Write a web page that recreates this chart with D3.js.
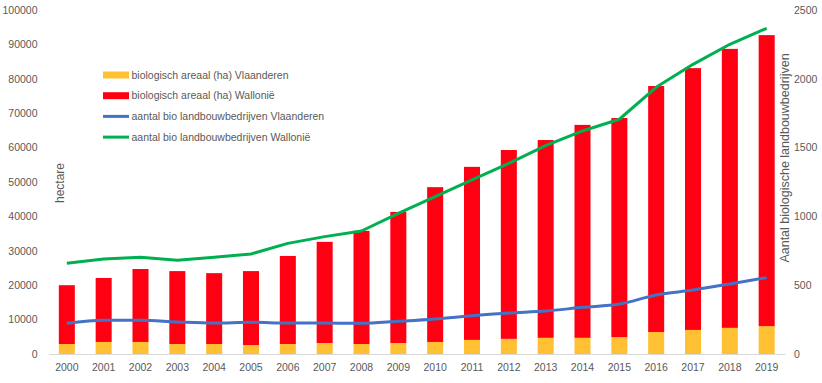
<!DOCTYPE html>
<html>
<head>
<meta charset="utf-8">
<script src="https://cdn.jsdelivr.net/npm/d3@7"></script>
<style>
  body { margin: 0; background: #fff; }
  svg { font-family: "Liberation Sans", Arial, sans-serif; }
</style>
</head>
<body>
<div id="chart"></div>
<script>
const years = ["2000","2001","2002","2003","2004","2005","2006","2007","2008","2009",
               "2010","2011","2012","2013","2014","2015","2016","2017","2018","2019"];
// hectare
const areaVlaanderen = [2900,3500,3500,2900,2900,2600,2900,3200,2900,3200,
                        3500,4100,4400,4700,4700,4900,6400,7000,7600,8100];
const areaTotal = [20000,22100,24700,24100,23500,24100,28500,32600,35800,41300,
                   48500,54400,59300,62200,66600,68600,77900,83100,88700,92700];
const areaWallonie = areaTotal.map((t, i) => t - areaVlaanderen[i]);
// aantal bedrijven
const farmsVlaanderen = [223,245,245,233,225,230,225,225,223,238,
                         255,278,298,312,339,363,429,465,509,555];
const farmsWallonie = [659,690,703,681,703,727,804,853,894,1022,
                       1143,1265,1386,1514,1621,1706,1938,2105,2251,2367];
const leftTicks = [0,10000,20000,30000,40000,50000,60000,70000,80000,90000,100000];
const rightTicks = [0,500,1000,1500,2000,2500];

const width = 822, height = 383;
const margin = { top: 10, right: 37, bottom: 29, left: 48.5 };
const innerW = width - margin.left - margin.right;
const innerH = height - margin.top - margin.bottom;

const svg = d3.select("#chart").append("svg")
  .attr("width", width).attr("height", height);
const g = svg.append("g").attr("transform", `translate(${margin.left},${margin.top})`);

const x = d3.scaleBand().domain(years).range([0, innerW]).paddingInner(0.565).paddingOuter(0.28);
const y = d3.scaleLinear().domain([0, 100000]).range([innerH, 0]);
const y2 = d3.scaleLinear().domain([0, 2500]).range([innerH, 0]);

const stackData = years.map((yr, i) => ({ year: yr, vl: areaVlaanderen[i], wa: areaWallonie[i] }));
const series = d3.stack().keys(["vl", "wa"])(stackData);
const colors = { vl: "#FFC133", wa: "#FF0013" };

g.selectAll(".layer").data(series).join("g")
  .attr("fill", d => colors[d.key])
  .selectAll("rect").data(d => d).join("rect")
  .attr("x", d => x(d.data.year))
  .attr("width", x.bandwidth())
  .attr("y", d => y(d[1]))
  .attr("height", d => y(d[0]) - y(d[1]));

// x axis
const xAxis = g.append("g").attr("transform", `translate(0,${innerH})`)
  .call(d3.axisBottom(x).tickSize(0).tickPadding(10));
xAxis.select(".domain").attr("stroke", "#d9d9d9");
xAxis.selectAll("text").attr("fill", "#595959").attr("font-size", "10.5px");

// left axis
const yAxis = g.append("g").call(d3.axisLeft(y).tickValues(leftTicks).tickFormat(d3.format("d")).tickSize(0).tickPadding(11));
yAxis.select(".domain").remove();
yAxis.selectAll("text").attr("fill", "#595959").attr("font-size", "10.5px");

// right axis
const yAxis2 = g.append("g").attr("transform", `translate(${innerW},0)`)
  .call(d3.axisRight(y2).tickValues(rightTicks).tickFormat(d3.format("d")).tickSize(0).tickPadding(9));
yAxis2.select(".domain").remove();
yAxis2.selectAll("text").attr("fill", "#595959").attr("font-size", "10.5px");

const cx = d => x(d) + x.bandwidth() / 2;
const line = d3.line().x((d, i) => cx(years[i])).y(d => y2(d));

g.append("path").datum(farmsVlaanderen)
  .attr("fill", "none").attr("stroke", "#4472C4").attr("stroke-width", 3)
  .attr("stroke-linejoin", "round").attr("d", line.curve(d3.curveMonotoneX));
g.append("path").datum(farmsWallonie)
  .attr("fill", "none").attr("stroke", "#00B050").attr("stroke-width", 3)
  .attr("stroke-linejoin", "round").attr("d", line.curve(d3.curveLinear));

// axis titles
svg.append("text")
  .attr("transform", "translate(64,183) rotate(-90)")
  .attr("text-anchor", "middle").attr("fill", "#595959").attr("font-size", "12px")
  .text("hectare");
svg.append("text")
  .attr("transform", "translate(789,158) rotate(-90)")
  .attr("text-anchor", "middle").attr("fill", "#595959").attr("font-size", "12.5px")
  .text("Aantal biologische landbouwbedrijven");

// legend
const legendItems = [
  { label: "biologisch areaal (ha) Vlaanderen", color: colors.vl, type: "rect" },
  { label: "biologisch areaal (ha) Wallonië", color: colors.wa, type: "rect" },
  { label: "aantal bio landbouwbedrijven Vlaanderen", color: "#4472C4", type: "line" },
  { label: "aantal bio landbouwbedrijven Wallonië", color: "#00B050", type: "line" }
];
const legend = svg.append("g").attr("transform", "translate(103,75)");
const li = legend.selectAll("g").data(legendItems).join("g")
  .attr("transform", (d, i) => `translate(0,${i * 20.7})`);
li.filter(d => d.type === "rect").append("rect")
  .attr("x", 0).attr("y", -3.5).attr("width", 26).attr("height", 7).attr("fill", d => d.color);
li.filter(d => d.type === "line").append("line")
  .attr("x1", 0).attr("x2", 26).attr("y1", 0).attr("y2", 0)
  .attr("stroke", d => d.color).attr("stroke-width", 3);
li.append("text").attr("x", 28.5).attr("y", 0).attr("dy", "0.35em")
  .attr("fill", "#595959").attr("font-size", "10.5px").text(d => d.label);
</script>
</body>
</html>
